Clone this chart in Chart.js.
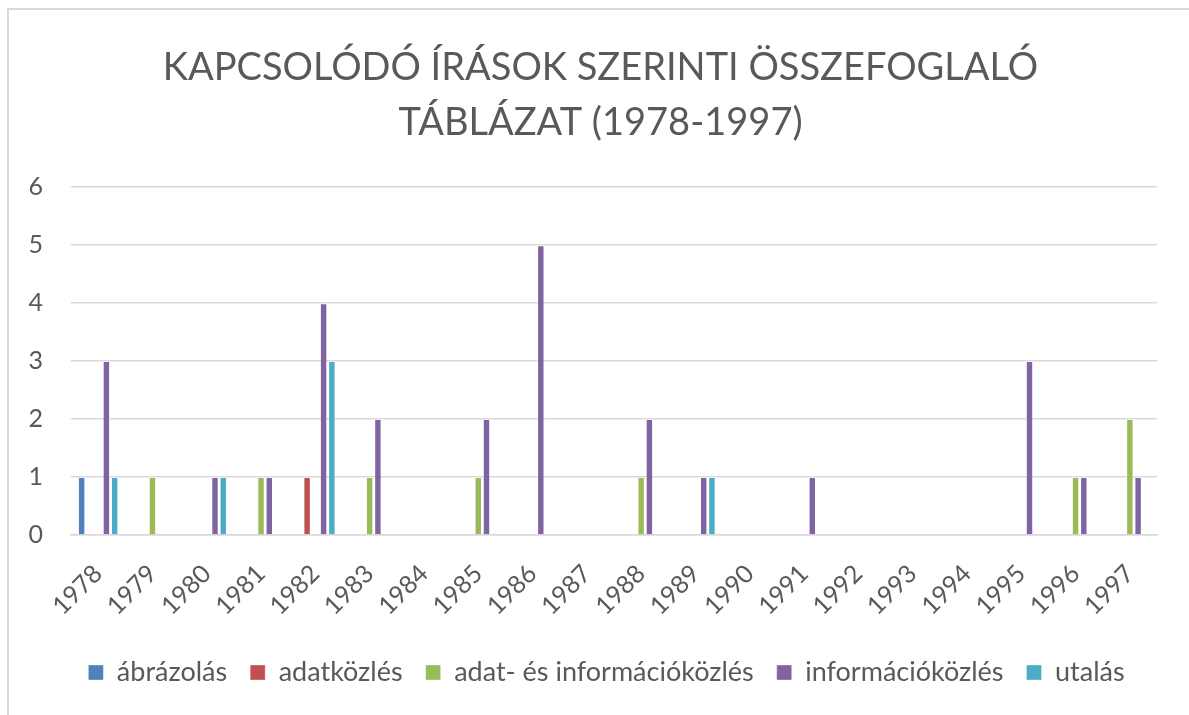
<!DOCTYPE html>
<html>
<head>
<meta charset="utf-8">
<script src="https://cdn.jsdelivr.net/npm/chart.js@4.4.1/dist/chart.umd.min.js"></script>
<style>
  html, body { margin: 0; padding: 0; background: #fff; }
  #wrap { width: 1189px; height: 715px; position: relative; }
</style>
</head>
<body>
<div id="wrap"><canvas id="chart"></canvas></div>
<script>
// Évek (kategóriák)
const evek = ['1978', '1979', '1980', '1981', '1982', '1983', '1984', '1985', '1986', '1987',
              '1988', '1989', '1990', '1991', '1992', '1993', '1994', '1995', '1996', '1997'];

// Sorozatok értékei évenként
const abrazolas        = [1, 0, 0, 0, 0, 0, 0, 0, 0, 0, 0, 0, 0, 0, 0, 0, 0, 0, 0, 0];
const adatkozles       = [0, 0, 0, 0, 1, 0, 0, 0, 0, 0, 0, 0, 0, 0, 0, 0, 0, 0, 0, 0];
const adatEsInfo       = [0, 1, 0, 1, 0, 1, 0, 1, 0, 0, 1, 0, 0, 0, 0, 0, 0, 0, 1, 2];
const informaciokozles = [3, 0, 1, 1, 4, 2, 0, 2, 5, 0, 2, 1, 0, 1, 0, 0, 0, 3, 1, 1];
const utalas           = [1, 0, 1, 0, 3, 0, 0, 0, 0, 0, 0, 1, 0, 0, 0, 0, 0, 0, 0, 0];

const cim = ['KAPCSOLÓDÓ ÍRÁSOK SZERINTI ÖSSZEFOGLALÓ', 'TÁBLÁZAT (1978-1997)'];

const szoveg = '#595959';
const racs = '#d9d9d9';
const betu = 'Lato, "Open Sans", sans-serif';

function sorozat(label, data, color) {
  return {
    label: label,
    data: data,
    backgroundColor: color,
    borderColor: 'rgba(255,255,255,0.35)',
    borderWidth: 1,
    categoryPercentage: 0.76,
    barPercentage: 0.9
  };
}

// Keret a diagram körül (bal és felső él)
const keret = {
  id: 'keret',
  beforeDraw(chart) {
    const ctx = chart.ctx;
    ctx.save();
    ctx.strokeStyle = racs;
    ctx.lineWidth = 2;
    ctx.strokeRect(8, 9, chart.width + 20, chart.height + 20);
    ctx.restore();
  }
};

// A cím és a jelmagyarázat a teljes vászon közepéhez igazodik, nem a rajzterülethez
const kozepre = {
  id: 'kozepre',
  afterLayout(chart) {
    chart.titleBlock.left += 22;
    chart.titleBlock.right += 22;
    chart.legend.left += 28;
    chart.legend.right += 28;
  }
};

new Chart(document.getElementById('chart'), {
  type: 'bar',
  data: {
    labels: evek,
    datasets: [
      sorozat('ábrázolás', abrazolas, '#4f81bd'),
      sorozat('adatközlés', adatkozles, '#c0504d'),
      sorozat('adat- és információközlés', adatEsInfo, '#9bbb59'),
      sorozat('információközlés', informaciokozles, '#8064a2'),
      sorozat('utalás', utalas, '#4bacc6')
    ]
  },
  options: {
    responsive: true,
    maintainAspectRatio: false,
    animation: false,
    layout: { padding: { top: 40, right: 32, bottom: 19, left: 0 } },
    plugins: {
      title: {
        display: true,
        text: cim,
        color: szoveg,
        font: { family: betu, size: 38, weight: 'normal', lineHeight: 1.45 },
        padding: { top: 0, bottom: 37 }
      },
      legend: {
        position: 'bottom',
        labels: {
          color: szoveg,
          font: { family: betu, size: 27 },
          boxWidth: 15,
          boxHeight: 15,
          padding: 23
        }
      },
      tooltip: { enabled: false }
    },
    scales: {
      x: {
        afterFit(scale) { scale.height = 101; },
        grid: { display: false },
        border: { color: racs, width: 1.5 },
        ticks: {
          color: szoveg,
          font: { family: betu, size: 25 },
          minRotation: 45,
          maxRotation: 45,
          padding: 16
        }
      },
      y: {
        min: 0,
        max: 6,
        afterFit(scale) { scale.width = 71; },
        grid: { color: racs, lineWidth: 1.5, drawTicks: false },
        border: { display: false },
        ticks: {
          stepSize: 1,
          color: szoveg,
          font: { family: betu, size: 25 },
          padding: 28
        }
      }
    }
  },
  plugins: [keret, kozepre]
});
</script>
</body>
</html>
